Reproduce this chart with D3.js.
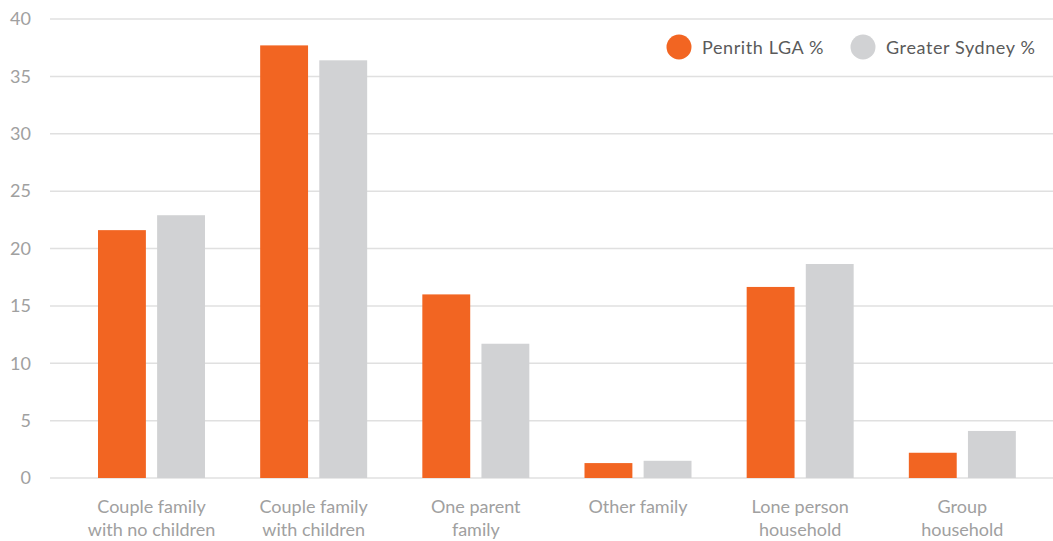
<!DOCTYPE html>
<html>
<head>
<meta charset="utf-8">
<script src="https://cdn.jsdelivr.net/npm/d3@7"></script>
<style>
  body { margin: 0; background: #fff; font-family: Lato, "Open Sans", sans-serif; }
  .grid line { stroke: #e0e0e0; stroke-width: 1.5; }
  .tick-label { fill: #a0a0a0; font-size: 18px; }
  .cat-label { fill: #a0a0a0; font-size: 18px; }
  .legend-text { fill: #5a5a5a; font-size: 18px; letter-spacing: 0.6px; }
</style>
</head>
<body>
<svg id="chart"></svg>
<script>
const categories = [
  ["Couple family", "with no children"],
  ["Couple family", "with children"],
  ["One parent", "family"],
  ["Other family"],
  ["Lone person", "household"],
  ["Group", "household"]
];
const seriesNames = ["Penrith LGA %", "Greater Sydney %"];
const penrith = [21.6, 37.7, 16.0, 1.3, 16.65, 2.2];
const sydney = [22.9, 36.4, 11.7, 1.5, 18.65, 4.1];
const yTicks = [0, 5, 10, 15, 20, 25, 30, 35, 40];
const colors = ["#f26522", "#d1d2d4"];

const w = 1053;
const h = 541;
const svg = d3.select("#chart").attr("width", w).attr("height", h);

const catKeys = categories.map((c) => c.join(" "));
const data = catKeys.map((k, i) => ({ key: k, lines: categories[i], values: [penrith[i], sydney[i]] }));

const x0 = d3.scaleBand().domain(catKeys).range([71, 1044]).padding(0);
const x1 = d3.scaleBand().domain(seriesNames).range([27, 134]).paddingInner(0.19).paddingOuter(0);
const y = d3.scaleLinear().domain([0, 40]).range([478, 19]);

// gridlines
svg.append("g").attr("class", "grid")
  .selectAll("line")
  .data(yTicks)
  .enter()
  .append("line")
  .attr("x1", 50)
  .attr("x2", w)
  .attr("y1", (d) => y(d))
  .attr("y2", (d) => y(d));

svg.append("g")
  .selectAll("text")
  .data(yTicks)
  .enter()
  .append("text")
  .attr("class", "tick-label")
  .attr("x", 31)
  .attr("y", (d) => y(d))
  .attr("dy", "0.35em")
  .attr("text-anchor", "end")
  .text((d) => d);

// bars
const groups = svg.selectAll(".group")
  .data(data)
  .enter()
  .append("g")
  .attr("transform", (d) => `translate(${x0(d.key)},0)`);

groups.selectAll("rect")
  .data((d) => d.values.map((v, i) => ({ name: seriesNames[i], value: v, i: i })))
  .enter()
  .append("rect")
  .attr("x", (d) => x1(d.name))
  .attr("width", x1.bandwidth())
  .attr("y", (d) => y(d.value))
  .attr("height", (d) => y(0) - y(d.value))
  .attr("fill", (d) => colors[d.i]);

// category labels
const labelX = (x1(seriesNames[0]) + x1(seriesNames[1]) + x1.bandwidth()) / 2;
groups.append("text")
  .attr("class", "cat-label")
  .attr("text-anchor", "middle")
  .attr("x", labelX)
  .attr("y", 513)
  .selectAll("tspan")
  .data((d) => d.lines)
  .enter()
  .append("tspan")
  .attr("x", labelX)
  .attr("dy", (d, i) => (i === 0 ? 0 : 23))
  .text((d) => d);

// legend
const legendX = [679, 863];
const legend = svg.append("g");
seriesNames.forEach((name, i) => {
  legend.append("circle")
    .attr("cx", legendX[i])
    .attr("cy", 47)
    .attr("r", 12.5)
    .attr("fill", colors[i]);
  legend.append("text")
    .attr("class", "legend-text")
    .attr("x", legendX[i] + 23)
    .attr("y", 48)
    .attr("dy", "0.35em")
    .text(name);
});
</script>
</body>
</html>
